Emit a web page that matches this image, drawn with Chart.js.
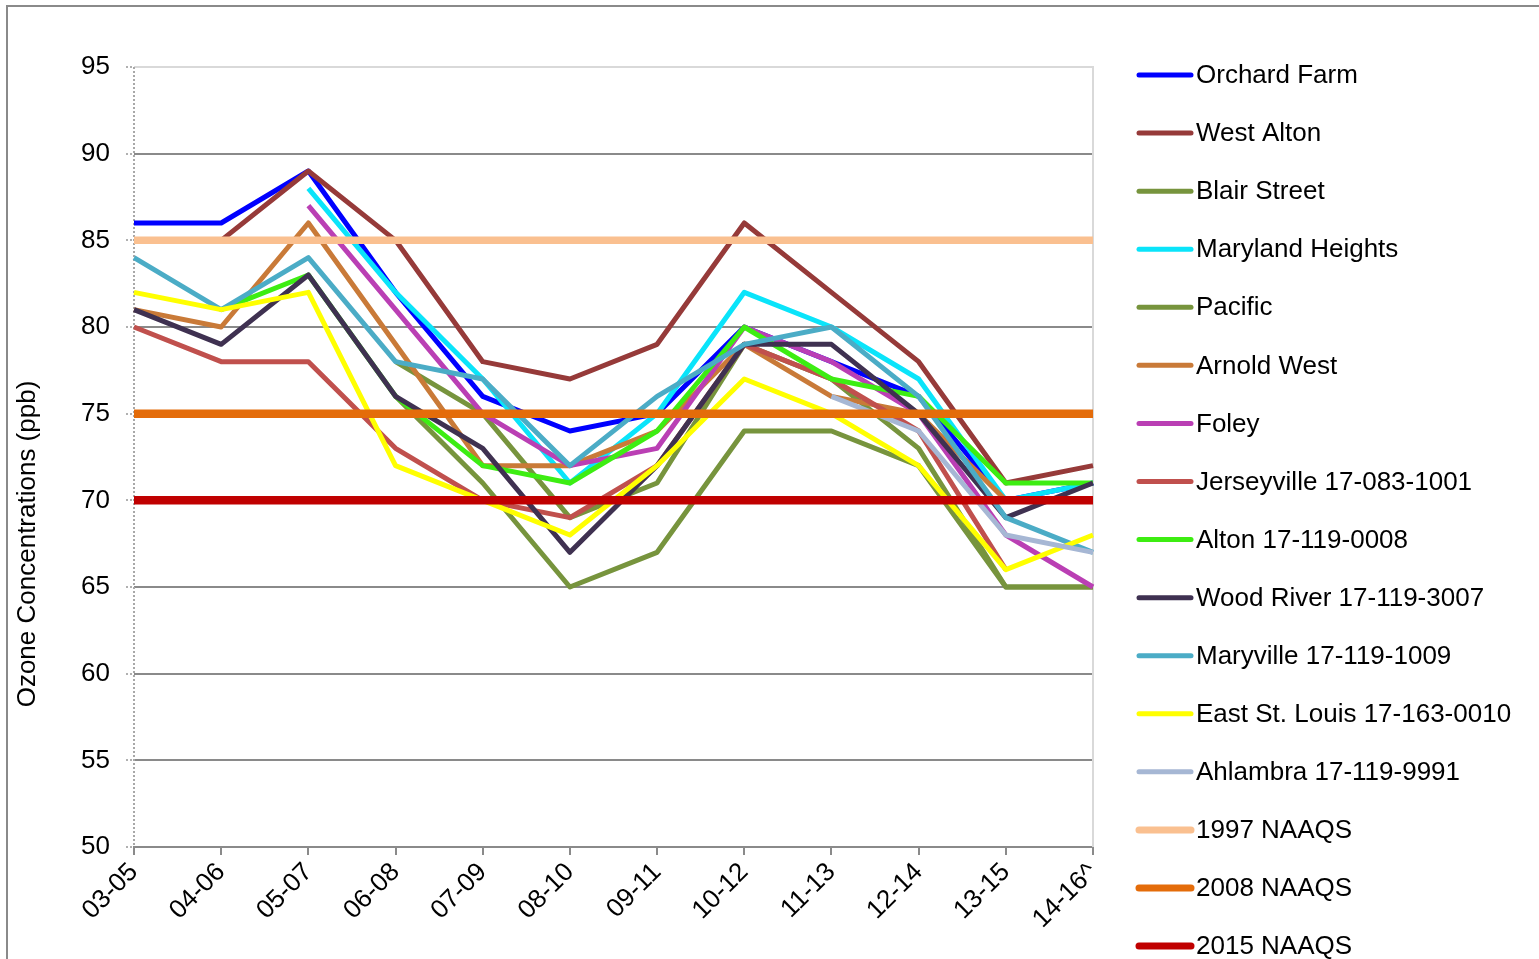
<!DOCTYPE html>
<html>
<head>
<meta charset="utf-8">
<title>Ozone Design Values</title>
<script src="https://cdn.jsdelivr.net/npm/chart.js@4.4.1/dist/chart.umd.min.js"></script>
<style>
  html, body { margin: 0; padding: 0; background: #fff; overflow: hidden; }
  canvas { display: block; }
</style>
</head>
<body>
<canvas id="ozoneChart" width="1539" height="959"></canvas>
<script>
// design value periods (3-year averages)
const periods = ['03-05', '04-06', '05-07', '06-08', '07-09', '08-10', '09-11', '10-12', '11-13', '12-14', '13-15', '14-16^'];

// ozone design values, ppb
const orchardFarm     = [86, 86, 89, 82, 76, 74, 75, 80, 78, 76, 70, 71];
const westAlton       = [null, 85, 89, 85, 78, 77, 79, 86, 82, 78, 71, 72];
const blairStreet     = [null, null, null, 78, 75, 69, 71, 79, 77, 73, 65, 65];
const marylandHeights = [null, null, 88, 82, 77, 71, 75, 82, 80, 77, 70, 71];
const pacific         = [null, null, null, 76, 71, 65, 67, 74, 74, 72, 65, 65];
const arnoldWest      = [81, 80, 86, 79, 72, 72, 74, 79, 76, 75, 70, 70];
const foley           = [null, null, 87, 81, 75, 72, 73, 80, 78, 75, 68, 65];
const jerseyville     = [80, 78, 78, 73, 70, 69, 72, 79, 77, 74, 66, null];
const alton           = [null, 81, 83, 76, 72, 71, 74, 80, 77, 76, 71, 71];
const woodRiver       = [81, 79, 83, 76, 73, 67, 72, 79, 79, 75, 69, 71];
const maryville       = [84, 81, 84, 78, 77, 72, 76, 79, 80, 76, 69, 67];
const eastStLouis     = [82, 81, 82, 72, 70, 68, 72, 77, 75, 72, 66, 68];
const ahlambra        = [null, null, null, null, null, null, null, null, 76, 74, 68, 67];

// standards
const naaqs1997 = [85, 85, 85, 85, 85, 85, 85, 85, 85, 85, 85, 85];
const naaqs2008 = [75, 75, 75, 75, 75, 75, 75, 75, 75, 75, 75, 75];
const naaqs2015 = [70, 70, 70, 70, 70, 70, 70, 70, 70, 70, 70, 70];

const seriesList = [
  ['Orchard Farm', orchardFarm, '#0000ff', 5],
  ['West Alton', westAlton, '#963a39', 5],
  ['Blair Street', blairStreet, '#77943d', 5],
  ['Maryland Heights', marylandHeights, '#0ae4fa', 5],
  ['Pacific', pacific, '#77943d', 5],
  ['Arnold West', arnoldWest, '#c97a38', 5],
  ['Foley', foley, '#ba3fb4', 5],
  ['Jerseyville 17-083-1001', jerseyville, '#c0504d', 5],
  ['Alton 17-119-0008', alton, '#3ded12', 5],
  ['Wood River 17-119-3007', woodRiver, '#3f3151', 5],
  ['Maryville 17-119-1009', maryville, '#4bacc6', 5],
  ['East St. Louis 17-163-0010', eastStLouis, '#ffff00', 5],
  ['Ahlambra 17-119-9991', ahlambra, '#a6b7d4', 5],
  ['1997 NAAQS', naaqs1997, '#fac090', 7.5],
  ['2008 NAAQS', naaqs2008, '#e46c0a', 8.5],
  ['2015 NAAQS', naaqs2015, '#c00000', 8.5]
];

const datasets = seriesList.map(([label, values, color, width], i) => ({
  label: label,
  data: values,
  borderColor: color,
  backgroundColor: color,
  borderWidth: width,
  order: seriesList.length - i   // later series sit on top
}));

Chart.defaults.font.family = '"Liberation Sans", Arial, sans-serif';
Chart.defaults.color = '#000';

// outer frame, light border round the plot area, dotted value axis
const frame = {
  id: 'frame',
  beforeDraw(chart) {
    const ctx = chart.ctx;
    ctx.save();
    ctx.strokeStyle = '#8a8a8a';
    ctx.lineWidth = 2;
    ctx.beginPath();
    ctx.moveTo(7, chart.height);
    ctx.lineTo(7, 6);
    ctx.lineTo(chart.width, 6);
    ctx.stroke();
    ctx.restore();
  },
  beforeDatasetsDraw(chart) {
    const a = chart.chartArea;
    const ctx = chart.ctx;
    ctx.save();
    ctx.strokeStyle = '#d9d9d9';
    ctx.lineWidth = 2;
    ctx.beginPath();
    ctx.moveTo(a.left, a.top);
    ctx.lineTo(a.right, a.top);
    ctx.lineTo(a.right, a.bottom);
    ctx.stroke();
    ctx.strokeStyle = '#a8a8a8';
    ctx.setLineDash([2, 2]);
    ctx.beginPath();
    ctx.moveTo(a.left, a.top);
    ctx.lineTo(a.left, a.bottom);
    ctx.stroke();
    ctx.restore();
  }
};

// y title sits lower than the plot centre
const yTitle = {
  id: 'yTitle',
  afterDraw(chart) {
    const ctx = chart.ctx;
    ctx.save();
    ctx.translate(28, 544);
    ctx.rotate(-Math.PI / 2);
    ctx.font = '26px "Liberation Sans", Arial, sans-serif';
    ctx.fillStyle = '#000';
    ctx.textAlign = 'center';
    ctx.textBaseline = 'middle';
    ctx.fillText('Ozone Concentrations (ppb)', 0, 0);
    ctx.restore();
  }
};

// legend column to the right of the plot
const sideLegend = {
  id: 'sideLegend',
  afterDraw(chart) {
    const ctx = chart.ctx;
    const x0 = chart.chartArea.right + 46;
    ctx.save();
    ctx.font = '26px "Liberation Sans", Arial, sans-serif';
    ctx.textBaseline = 'middle';
    ctx.lineCap = 'round';
    chart.data.datasets.forEach((ds, i) => {
      const y = 75 + i * 58.07;
      ctx.strokeStyle = ds.borderColor;
      ctx.lineWidth = ds.borderWidth > 6 ? 7 : 5;
      ctx.beginPath();
      ctx.moveTo(x0, y);
      ctx.lineTo(x0 + 52, y);
      ctx.stroke();
      ctx.fillStyle = '#000';
      ctx.fillText(ds.label, x0 + 57, y + 1);
    });
    ctx.restore();
  }
};

new Chart(document.getElementById('ozoneChart'), {
  type: 'line',
  data: { labels: periods, datasets: datasets },
  options: {
    responsive: false,
    animation: false,
    devicePixelRatio: 1,
    layout: { padding: { top: 67, right: 446, bottom: 0, left: 0 } },
    elements: {
      line: { tension: 0, borderJoinStyle: 'round', borderCapStyle: 'butt' },
      point: { radius: 0, hoverRadius: 0 }
    },
    plugins: {
      legend: { display: false },
      tooltip: { enabled: false }
    },
    scales: {
      x: {
        type: 'category',
        offset: false,
        grid: { drawOnChartArea: false, drawTicks: true, tickLength: 8, color: '#8a8a8a', lineWidth: 2 },
        border: { color: '#8a8a8a', width: 2 },
        ticks: { autoSkip: false, minRotation: 45, maxRotation: 45, padding: 2, font: { size: 26 }, color: '#000' },
        afterFit(scale) { scale.height = 112; }
      },
      y: {
        min: 50,
        max: 95,
        ticks: { stepSize: 5, padding: 16, font: { size: 26 }, color: '#000' },
        grid: {
          color: (c) => (c.tick && c.tick.value === 95 ? '#d9d9d9' : '#8a8a8a'),
          lineWidth: 2,
          tickLength: 8,
          tickColor: '#b0b0b0',
          tickBorderDash: [2, 2]
        },
        border: { display: false },
        afterFit(scale) { scale.width = 134; }
      }
    }
  },
  plugins: [frame, yTitle, sideLegend]
});
</script>
</body>
</html>
